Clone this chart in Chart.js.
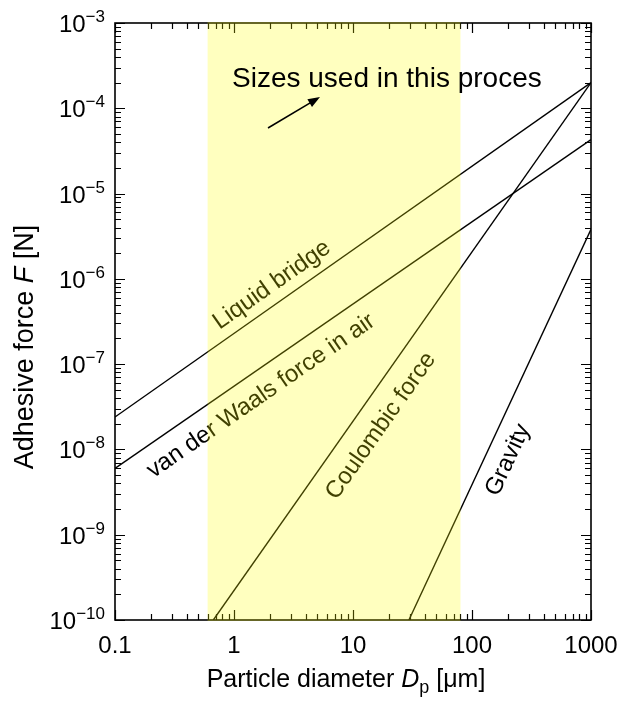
<!DOCTYPE html>
<html>
<head>
<meta charset="utf-8">
<script src="https://cdn.jsdelivr.net/npm/chart.js@4.4.1/dist/chart.umd.min.js"></script>
<style>
  html, body { margin: 0; padding: 0; background: #fff; }
  canvas { display: block; }
</style>
</head>
<body>
<canvas id="chart" width="621" height="707"></canvas>
<script>
// particle diameter in um, force in N
const diameters = [0.1, 1000];
const liquidBridge = [2.4e-8, 2e-4];
const vanDerWaals = [6e-9, 4.3e-5];
const coulombDiam = [0.67, 1000];
const coulombForce = [1e-10, 2e-4];
const gravityDiam = [29.5, 1000];
const gravityForce = [1e-10, 3.8e-6];

// range of sizes used in the process (yellow band)
const sizeBand = [0.6, 80];

const xTickValues = [0.1, 1, 10, 100, 1000];
const xTickLabels = ["0.1", "1", "10", "100", "1000"];
const yTickExponents = [-10, -9, -8, -7, -6, -5, -4, -3];

const seriesNames = ["Liquid bridge", "van der Waals force in air", "Coulombic force", "Gravity"];

const FONT = "'Liberation Sans', Arial, Helvetica, sans-serif";

function toPoints(xs, ys) {
  return xs.map((x, i) => ({ x: x, y: ys[i] }));
}

function lineSet(label, xs, ys) {
  return {
    label: label,
    data: toPoints(xs, ys),
    showLine: true,
    borderColor: "#000",
    borderWidth: 1.4,
    pointRadius: 0,
    fill: false,
  };
}

// where the curve names sit (pixel centre of the text)
const labelSpots = [
  { cx: 272, cy: 285 },
  { cx: 261, cy: 396 },
  { cx: 381, cy: 426 },
  { cx: 508, cy: 460 },
];

const drawExtras = {
  id: "drawExtras",
  afterDatasetsDraw(chart) {
    const ctx = chart.ctx;
    const a = chart.chartArea;
    const xs = chart.scales.x;
    const ys = chart.scales.y;
    ctx.save();

    // curve names, rotated along their lines
    ctx.fillStyle = "#000";
    ctx.font = "24px " + FONT;
    ctx.textAlign = "center";
    ctx.textBaseline = "middle";
    chart.data.datasets.forEach((ds, i) => {
      const p0 = ds.data[0], p1 = ds.data[ds.data.length - 1];
      const x0 = xs.getPixelForValue(p0.x), y0 = ys.getPixelForValue(p0.y);
      const x1 = xs.getPixelForValue(p1.x), y1 = ys.getPixelForValue(p1.y);
      const ang = Math.atan2(y1 - y0, x1 - x0);
      ctx.save();
      ctx.translate(labelSpots[i].cx, labelSpots[i].cy);
      ctx.rotate(ang);
      ctx.fillText(seriesNames[i], 0, 0);
      ctx.restore();
    });

    // frame
    ctx.strokeStyle = "#000";
    ctx.lineWidth = 1.6;
    ctx.strokeRect(a.left, a.top, a.right - a.left, a.bottom - a.top);

    // inward ticks on all four sides
    ctx.lineWidth = 1.2;
    ctx.beginPath();
    for (let e = -10; e <= -3; e++) {
      for (let k = 1; k <= 9; k++) {
        const v = k * Math.pow(10, e);
        if (v > ys.max * 1.0001) break;
        const py = Math.round(ys.getPixelForValue(v)) + 0.5;
        const len = k === 1 ? 10 : 6;
        ctx.moveTo(a.left, py); ctx.lineTo(a.left + len, py);
        ctx.moveTo(a.right, py); ctx.lineTo(a.right - len, py);
      }
    }
    for (let e = -1; e <= 3; e++) {
      for (let k = 1; k <= 9; k++) {
        const v = k * Math.pow(10, e);
        if (v > xs.max * 1.0001) break;
        const px = Math.round(xs.getPixelForValue(v)) + 0.5;
        const len = k === 1 ? 10 : 6;
        ctx.moveTo(px, a.bottom); ctx.lineTo(px, a.bottom - len);
        ctx.moveTo(px, a.top); ctx.lineTo(px, a.top + len);
      }
    }
    ctx.stroke();

    // yellow band laid over lines, so they turn olive inside it
    const bx0 = xs.getPixelForValue(sizeBand[0]);
    const bx1 = xs.getPixelForValue(sizeBand[1]);
    ctx.fillStyle = "rgba(255, 255, 0, 0.25)";
    ctx.fillRect(bx0, a.top - 1, bx1 - bx0, a.bottom - a.top + 2);

    // x tick labels
    ctx.fillStyle = "#000";
    ctx.font = "24px " + FONT;
    ctx.textAlign = "center";
    ctx.textBaseline = "alphabetic";
    xTickValues.forEach((v, i) => {
      ctx.fillText(xTickLabels[i], xs.getPixelForValue(v), a.bottom + 33);
    });

    // y tick labels 10^n
    ctx.textAlign = "left";
    yTickExponents.forEach((e) => {
      const py = ys.getPixelForValue(Math.pow(10, e));
      const sup = "\u2212" + Math.abs(e);
      ctx.font = "17px " + FONT;
      const ws = ctx.measureText(sup).width;
      ctx.font = "24px " + FONT;
      const wb = ctx.measureText("10").width;
      const right = a.left - 10;
      ctx.fillText("10", right - ws - wb, py + 9);
      ctx.font = "17px " + FONT;
      ctx.fillText(sup, right - ws, py - 1);
    });

    // x axis title: Particle diameter D_p [um]
    {
      const parts = [
        { t: "Particle diameter ", f: "25px " + FONT, dy: 0 },
        { t: "D", f: "italic 25px " + FONT, dy: 0 },
        { t: "p", f: "18px " + FONT, dy: 6 },
        { t: " [\u03bcm]", f: "25px " + FONT, dy: 0 },
      ];
      let w = 0;
      parts.forEach((p) => { ctx.font = p.f; p.w = ctx.measureText(p.t).width; w += p.w; });
      let x = (a.left + a.right) / 2 - w / 2 - 7;
      parts.forEach((p) => { ctx.font = p.f; ctx.fillText(p.t, x, 687 + p.dy); x += p.w; });
    }

    // y axis title: Adhesive force F [N]
    {
      const parts = [
        { t: "Adhesive force ", f: "27px " + FONT },
        { t: "F", f: "italic 27px " + FONT },
        { t: " [N]", f: "27px " + FONT },
      ];
      let w = 0;
      parts.forEach((p) => { ctx.font = p.f; p.w = ctx.measureText(p.t).width; w += p.w; });
      ctx.save();
      ctx.translate(33, 347);
      ctx.rotate(-Math.PI / 2);
      let x = -w / 2;
      parts.forEach((p) => { ctx.font = p.f; ctx.fillText(p.t, x, 0); x += p.w; });
      ctx.restore();
    }

    // note and arrow on top of the band
    ctx.font = "28px " + FONT;
    ctx.textAlign = "left";
    ctx.fillText("Sizes used in this proces", 232, 87);

    const tx = 268, ty = 128, hx = 320, hy = 97;
    const ang = Math.atan2(hy - ty, hx - tx);
    ctx.lineWidth = 1.5;
    ctx.beginPath();
    ctx.moveTo(tx, ty);
    ctx.lineTo(hx - 8 * Math.cos(ang), hy - 8 * Math.sin(ang));
    ctx.stroke();
    ctx.beginPath();
    ctx.moveTo(hx, hy);
    ctx.lineTo(hx - 12 * Math.cos(ang) + 4.5 * Math.sin(ang), hy - 12 * Math.sin(ang) - 4.5 * Math.cos(ang));
    ctx.lineTo(hx - 12 * Math.cos(ang) - 4.5 * Math.sin(ang), hy - 12 * Math.sin(ang) + 4.5 * Math.cos(ang));
    ctx.closePath();
    ctx.fill();

    ctx.restore();
  },
};

new Chart(document.getElementById("chart"), {
  type: "scatter",
  data: {
    datasets: [
      lineSet(seriesNames[0], diameters, liquidBridge),
      lineSet(seriesNames[1], diameters, vanDerWaals),
      lineSet(seriesNames[2], coulombDiam, coulombForce),
      lineSet(seriesNames[3], gravityDiam, gravityForce),
    ],
  },
  options: {
    responsive: false,
    animation: false,
    layout: { padding: { left: 115, right: 30, top: 23, bottom: 87 } },
    plugins: { legend: { display: false }, tooltip: { enabled: false } },
    scales: {
      x: {
        type: "logarithmic",
        min: 0.1,
        max: 1000,
        grid: { display: false, drawTicks: false },
        border: { display: false },
        ticks: { display: false },
      },
      y: {
        type: "logarithmic",
        min: 1e-10,
        max: 1e-3,
        grid: { display: false, drawTicks: false },
        border: { display: false },
        ticks: { display: false },
      },
    },
  },
  plugins: [drawExtras],
});
</script>
</body>
</html>
